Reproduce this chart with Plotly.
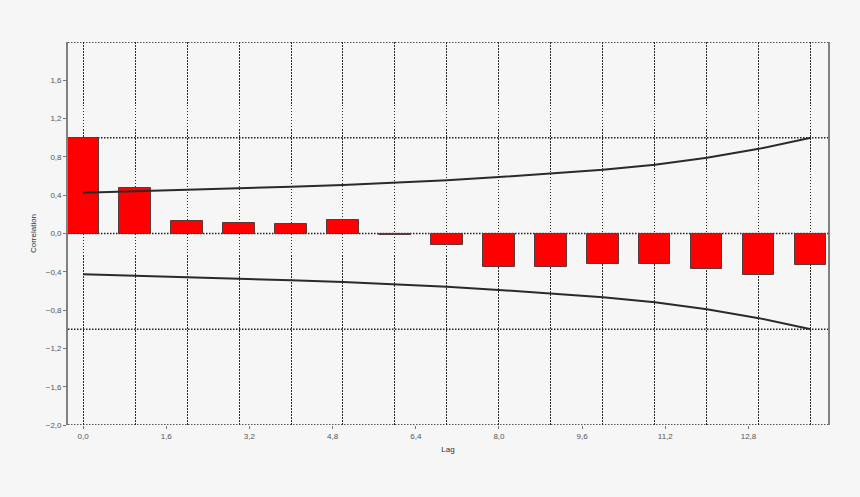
import plotly.graph_objects as go

lags = list(range(15))
acf = [1.0, 0.475, 0.133, 0.105, 0.098, 0.143, -0.02, -0.118, -0.345, -0.345,
       -0.317, -0.317, -0.366, -0.43, -0.325]
conf_upper = [0.425, 0.44, 0.454, 0.47, 0.489, 0.507, 0.531, 0.557, 0.59, 0.624,
              0.665, 0.718, 0.79, 0.884, 1.0]
conf_lower = [-v for v in conf_upper]
y_ticks = [-2.0, -1.6, -1.2, -0.8, -0.4, 0.0, 0.4, 0.8, 1.2, 1.6]
ref_lines = [-2.0, -1.0, 0.0, 1.0, 2.0]

BG = "#f6f6f6"
FONT = "Liberation Sans, Arial, sans-serif"
DOT = "1.5px,1.5px"

fig = go.Figure()
fig.add_trace(go.Bar(x=lags, y=acf, width=0.6,
                     marker=dict(color="#ff0000", line=dict(color="#5a3a3a", width=1)),
                     showlegend=False))
for band in (conf_upper, conf_lower):
    fig.add_trace(go.Scatter(x=lags, y=band, mode="lines", xaxis="x2",
                             line=dict(color="#2a2a2a", width=2), showlegend=False))

for v in ref_lines:
    fig.add_shape(type="line", xref="paper", x0=0, x1=1, yref="y", y0=v, y1=v,
                  line=dict(color="#222222", width=1.5, dash=DOT), layer="below")

xr = [-0.29, 14.33]
fig.update_layout(
    width=860, height=497,
    margin=dict(l=68, r=32, t=42, b=72),
    paper_bgcolor=BG, plot_bgcolor=BG,
    separators=",.",
    font=dict(family=FONT, size=8, color="#555555"),
    bargap=0,
    xaxis=dict(range=xr, dtick=1, tick0=0, showticklabels=False, ticks="",
               showgrid=True, gridcolor="#2a2a2a", gridwidth=1.1, griddash=DOT,
               zeroline=False, showline=False),
    xaxis2=dict(range=xr, overlaying="x", anchor="y", side="bottom",
                tick0=0, dtick=1.6, tickformat=".1f", ticks="outside", ticklen=3,
                tickcolor="#777777", showgrid=False, zeroline=False, showline=False,
                tickfont=dict(size=8, color="#555555"),
                title=dict(text="Lag", standoff=6, font=dict(size=8, color="#333333"))),
    yaxis=dict(range=[-2.0, 2.0], tickvals=y_ticks, tickformat=".1f",
               ticks="outside", ticklen=3, tickcolor="#777777",
               showgrid=False, zeroline=False,
               showline=True, mirror=True, linecolor="#808080", linewidth=1.8,
               tickfont=dict(size=8, color="#555555"),
               title=dict(text="Correlation", standoff=8, font=dict(size=8, color="#333333"))),
)

fig.write_html(
    "out.html",
    config={"displayModeBar": False},
    post_script="document.body.style.margin='0';document.body.style.background='#f6f6f6';",
)
